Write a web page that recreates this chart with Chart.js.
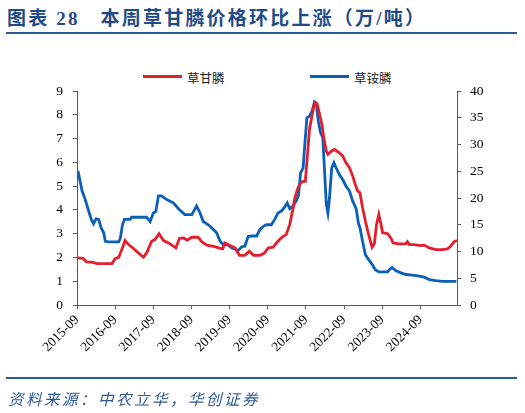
<!DOCTYPE html>
<html>
<head>
<meta charset="utf-8">
<script src="https://cdn.jsdelivr.net/npm/chart.js@4.4.1/dist/chart.umd.min.js"></script>
<style>
  body { margin: 0; width: 525px; height: 413px; background: #fff; position: relative; overflow: hidden; }
  #title { position: absolute; left: 7px; top: 3px; font: bold 19px "Liberation Serif", "Noto Sans CJK SC"; color: #1F4B87; letter-spacing: 2.2px; white-space: pre; }
  .rule { position: absolute; left: 6px; width: 511px; height: 2px; background: #2D5A97; }
  #source { position: absolute; left: 8px; top: 387px; font: italic 15.5px "Noto Sans CJK SC"; color: #2D5A97; letter-spacing: 2.5px; }
  .leg { position: absolute; top: 68px; font: 12.5px "Noto Sans CJK SC"; color: #222; }
  .leg i { position: absolute; top: 7px; width: 39px; height: 3px; }
  #chart { position: absolute; left: 0; top: 0; }
</style>
</head>
<body>
<div id="title">图表 28   本周草甘膦价格环比上涨（万/吨）</div>
<div class="rule" style="top:32px"></div>
<div class="leg" style="left:143px"><i style="background:#E41E2B;left:0"></i><span style="margin-left:44px">草甘膦</span></div>
<div class="leg" style="left:310px"><i style="background:#0A60B8;left:0"></i><span style="margin-left:44px">草铵膦</span></div>
<canvas id="chart" width="525" height="413"></canvas>
<div class="rule" style="top:377px"></div>
<div id="source">资料来源：中农立华，华创证券</div>
<script>
// months counted from 2015-09
const glyMonths = [0.3, 1.9, 3.0, 4.7, 6.3, 8.9, 11.0, 12.0, 13.1, 14.1, 15.1, 16.2, 17.8, 19.3, 20.9, 21.9, 23.5, 24.5, 25.8, 27.2,
  28.8, 29.8, 31.1, 32.2, 33.4, 34.7, 36.1, 38.1, 39.2, 40.8, 42.9, 44.5, 45.8, 46.5, 48.1, 49.7, 51.1, 52.8, 54.2, 55.5,
  57.6, 59.0, 60.1, 61.7, 62.7, 63.7, 64.8, 65.8, 66.9, 67.9, 68.5, 69.5, 70.3, 71.1, 71.8, 72.4, 73.1, 73.9, 74.7, 75.5,
  76.3, 77.0, 77.6, 78.4, 78.9, 80.0, 81.0, 82.5, 83.6, 84.6, 85.7, 86.7, 87.8, 88.3, 89.0, 89.8, 90.7, 91.7, 92.8, 93.5,
  94.2, 94.9, 95.6, 96.1, 97.7, 98.7, 99.4, 101.3, 103.4, 103.9, 104.5, 106.0, 108.1, 109.2, 110.8, 112.8, 114.9, 116.5, 117.5, 118.6, 119.5];
const glyPrice = [1.98, 1.96, 1.81, 1.80, 1.74, 1.74, 1.74, 1.95, 2.00, 2.33, 2.71, 2.54, 2.37, 2.19, 2.01, 2.19, 2.68, 2.75, 3.00, 2.71,
  2.61, 2.52, 2.40, 2.80, 2.82, 2.73, 2.85, 2.85, 2.66, 2.52, 2.47, 2.40, 2.36, 2.61, 2.50, 2.40, 2.09, 2.09, 2.26, 2.09,
  2.09, 2.19, 2.40, 2.43, 2.61, 2.75, 2.89, 2.96, 3.39, 4.02, 4.51, 4.93, 5.14, 5.20, 5.20, 6.19, 7.39, 7.95, 8.51, 8.46,
  8.02, 7.60, 7.04, 6.47, 6.33, 6.47, 6.54, 6.40, 6.26, 5.98, 5.77, 5.42, 4.95, 4.79, 4.72, 4.09, 3.52, 2.96, 2.43, 2.57,
  3.39, 3.81, 3.39, 3.04, 3.00, 2.82, 2.61, 2.57, 2.57, 2.66, 2.54, 2.54, 2.50, 2.52, 2.40, 2.33, 2.33, 2.36, 2.47, 2.66, 2.71];

const glufMonths = [0.3, 1.0, 1.6, 2.6, 3.7, 4.5, 5.2, 6.0, 6.8, 7.6, 8.4, 8.9, 9.9, 13.1, 13.6, 14.3, 14.9, 16.7, 17.2, 19.3,
  21.9, 23.0, 24.0, 24.8, 25.6, 26.6, 28.2, 30.3, 31.9, 33.9, 36.1, 37.6, 38.7, 39.7, 41.3, 42.9, 43.9, 45.0, 46.0, 47.6,
  48.6, 50.7, 51.8, 52.8, 53.8, 54.9, 56.5, 57.5, 58.6, 59.6, 61.1, 62.2, 63.2, 64.3, 65.3, 66.1, 66.9, 67.9, 69.0, 69.7,
  70.3, 71.1, 71.6, 72.3, 73.1, 73.9, 74.7, 75.2, 75.9, 76.6, 77.3, 77.8, 78.4, 78.9, 79.4, 80.1, 80.8, 81.5, 82.5, 83.6,
  84.6, 85.7, 86.7, 87.8, 88.5, 89.0, 89.8, 90.7, 91.7, 92.8, 93.8, 94.9, 96.1, 97.7, 98.2, 99.1, 100.3, 101.9, 103.4, 105.5,
  107.6, 109.2, 110.8, 112.8, 114.9, 117.0, 119.3];
const glufPrice = [25.1, 23.1, 21.3, 19.7, 17.5, 16.0, 15.2, 16.1, 16.0, 14.4, 13.5, 11.9, 11.8, 11.8, 12.4, 15.0, 16.0, 16.0, 16.4, 16.4,
  16.4, 15.6, 17.2, 17.5, 20.4, 20.4, 19.7, 19.1, 18.0, 16.9, 16.9, 18.5, 17.2, 15.6, 15.0, 14.1, 13.5, 11.9, 11.3, 11.2,
  10.7, 10.2, 10.9, 11.0, 12.8, 12.9, 12.9, 14.1, 14.7, 15.0, 15.0, 16.0, 17.2, 17.6, 18.3, 19.1, 18.0, 18.5, 19.5, 20.6,
  24.7, 25.6, 29.7, 35.0, 35.3, 36.2, 38.0, 37.8, 34.3, 32.2, 31.3, 25.6, 18.8, 17.2, 20.0, 25.6, 26.6, 25.6, 24.4, 23.4,
  22.2, 21.3, 19.4, 18.0, 15.3, 14.4, 11.9, 9.4, 8.5, 7.6, 6.6, 6.2, 6.2, 6.2, 6.6, 7.0, 6.4, 6.0, 5.7, 5.6,
  5.4, 5.2, 4.75, 4.55, 4.4, 4.4, 4.4];

const leftTicks = [0, 1, 2, 3, 4, 5, 6, 7, 8, 9];
const rightTicks = [0, 5, 10, 15, 20, 25, 30, 35, 40];

const tickFont = { family: '"Liberation Serif", "Times New Roman", serif', size: 13.5 };
const axisColor = '#595959';

function axisStyle() {
  return {
    grid: { drawOnChartArea: false, drawTicks: true, tickLength: 4, tickColor: axisColor },
    border: { display: true, color: axisColor, width: 1 }
  };
}

new Chart(document.getElementById('chart'), {
  type: 'line',
  data: {
    datasets: [
      {
        label: '草甘膦',
        data: glyMonths.map((m, i) => ({ x: m, y: glyPrice[i] })),
        borderColor: '#E41E2B',
        borderWidth: 2.8,
        pointRadius: 0,
        yAxisID: 'y'
      },
      {
        label: '草铵膦',
        data: glufMonths.map((m, i) => ({ x: m, y: glufPrice[i] })),
        borderColor: '#0A60B8',
        borderWidth: 2.8,
        pointRadius: 0,
        yAxisID: 'y1'
      }
    ]
  },
  options: {
    responsive: false,
    animation: false,
    layout: { padding: { top: 91, left: 0, right: 0, bottom: 0 } },
    plugins: { legend: { display: false }, tooltip: { enabled: false } },
    scales: {
      x: {
        type: 'linear',
        min: 0,
        max: 119.5,
        ...axisStyle(),
        ticks: {
          stepSize: 12,
          includeBounds: false,
          autoSkip: false,
          minRotation: 45,
          maxRotation: 45,
          padding: 3,
          color: '#000',
          font: tickFont,
          callback: v => (2015 + v / 12) + '-09'
        },
        afterFit: s => { s.height = 108; }
      },
      y: {
        position: 'left',
        min: 0,
        max: 9,
        ...axisStyle(),
        afterBuildTicks: s => { s.ticks = leftTicks.map(v => ({ value: v })); },
        ticks: { color: '#000', font: tickFont, padding: 10 },
        afterFit: s => { s.width = 77; }
      },
      y1: {
        position: 'right',
        min: 0,
        max: 40,
        ...axisStyle(),
        afterBuildTicks: s => { s.ticks = rightTicks.map(v => ({ value: v })); },
        ticks: { color: '#000', font: tickFont, padding: 9 },
        afterFit: s => { s.width = 68; }
      }
    }
  }
});
</script>
</body>
</html>
